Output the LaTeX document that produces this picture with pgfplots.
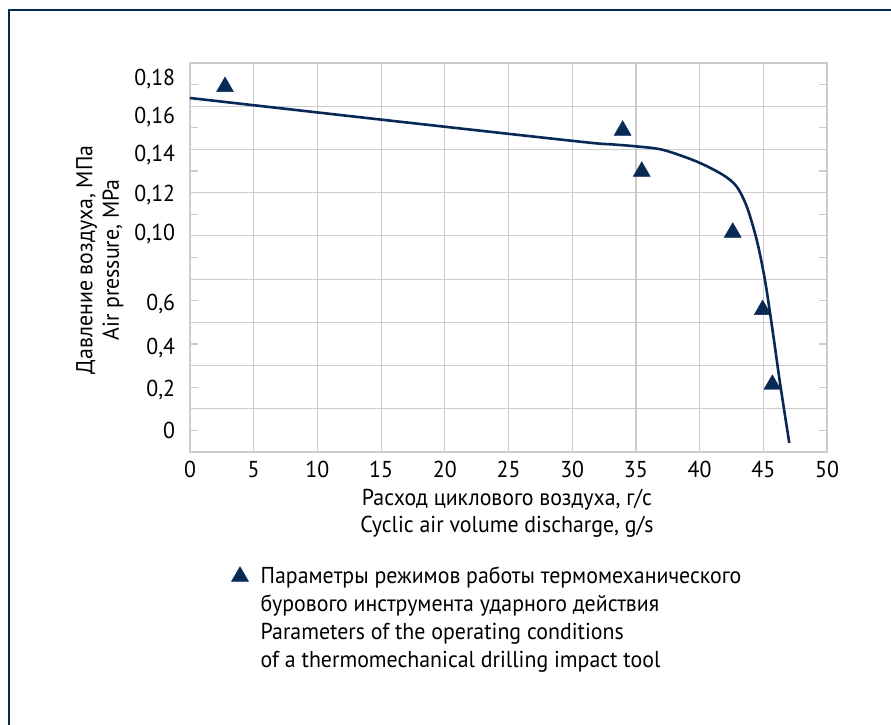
\documentclass[border=0pt]{standalone}
\usepackage{fontspec}
\setmainfont{PT Sans}[FakeStretch=0.95]
\usepackage{pgfplots}
\pgfplotsset{compat=1.18}
\definecolor{navy}{RGB}{8,40,85}
\definecolor{gridgray}{RGB}{204,204,204}
\begin{document}
\fontsize{23}{27}\selectfont
\begin{tikzpicture}
\path[use as bounding box] (0pt,0pt) rectangle (891pt,725pt);
\draw[navy, line width=1.2pt] (9pt,0pt) -- (9pt,715pt) -- (891pt,715pt);
\begin{axis}[
  at={(190pt,273pt)}, anchor=south west,
  scale only axis, width=637pt, height=389pt,
  xmin=0, xmax=50, ymin=0, ymax=9,
  xtick={0,5,...,50},
  xticklabels={0,5,10,15,20,25,30,35,40,45,50},
  xmajorgrids=true,
  ytick={0.49,1.43,2.41,3.42,5.04,5.94,6.87,7.74,8.63},
  yticklabels={0,{0,2},{0,4},{0,6},{0,10},{0,12},{0,14},{0,16},{0,18}},
  minor ytick={0.5,1.5,...,8.5},
  extra y ticks={1,2,3,4,5,6,7,8},
  extra y tick labels={},
  extra y tick style={grid=major, major tick length=0pt},
  major tick length=0pt,
  minor tick length=8pt,
  tick align=inside,
  tick style={gridgray, line width=1.2pt},
  grid style={gridgray, line width=1.2pt},
  axis line style={gridgray, line width=1.2pt},
  tick label style={font=\fontsize{23}{27}\selectfont},
  xticklabel style={yshift=-1.5pt},
  yticklabel style={xshift=-7pt},
  label style={font=\fontsize{23}{26.5}\selectfont, align=center},
  xlabel={Расход циклового воздуха, г/с\\Cyclic air volume discharge, g/s},
  xlabel style={at={(axis description cs:0.4976,-0.158)}, anchor=center},
  ylabel={Давление воздуха, МПа\\Air pressure, MPa},
  ylabel style={at={(axis description cs:-0.1413,0.494)}, anchor=center},
  legend style={at={(axis description cs:0.0628,-0.2825)}, anchor=north west,
    draw=none, fill=none, inner sep=0pt, outer sep=0pt,
    font=\fontsize{23}{28}\selectfont},
  legend cell align=left,
  legend image code/.code={\draw[#1,only marks] plot coordinates {(0pt,-1pt)}; \path (-9.8pt,0pt) (18.5pt,0pt);},
  clip=false,
]
\addplot[navy, line width=2.6pt, smooth, tension=0.5, forget plot] coordinates {
 (0,8.19) (15,7.69) (30.6,7.18) (33,7.12) (35.06,7.07) (37.13,6.99) (39.77,6.72)
 (41.84,6.41) (42.91,6.14) (43.70,5.68) (44.48,4.91) (45.13,3.98) (45.76,2.75)
 (46.31,1.60) (47.04,0.21)};
\addplot[navy, only marks, mark=triangle*, mark size=9.8pt] coordinates {
 (2.75,8.45) (33.96,7.44) (35.46,6.49) (42.60,5.08) (44.95,3.29) (45.71,1.56)};
\addlegendentry{\begin{tabular}[t]{@{}l@{}}Параметры режимов работы термомеханического\\бурового инструмента ударного действия\\Parameters of the operating conditions\\of a thermomechanical drilling impact tool\end{tabular}}
\end{axis}
\end{tikzpicture}
\end{document}
